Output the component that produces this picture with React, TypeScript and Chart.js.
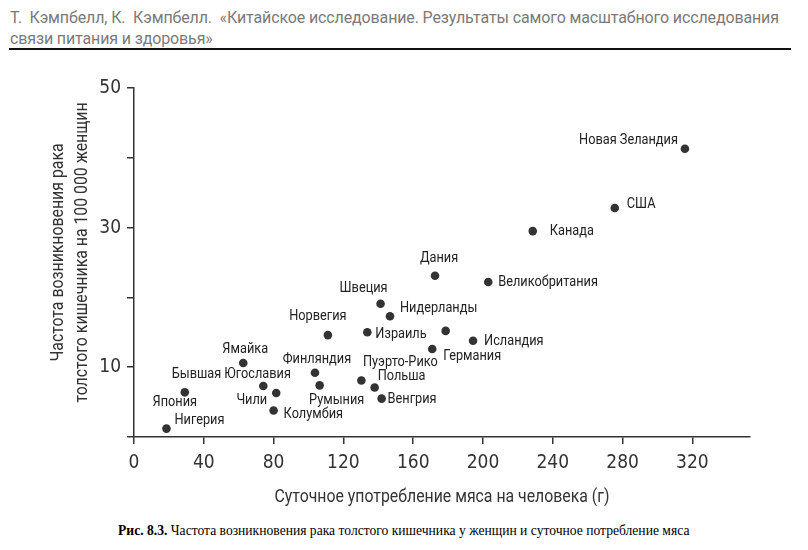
import React, { useEffect, useRef } from "react";
import { Chart, registerables } from "chart.js";

Chart.register(...registerables);

const TICK_FONT = "'DejaVu Sans Condensed', Roboto, sans-serif";
const LABEL_FONT = "Roboto, 'DejaVu Sans Condensed', sans-serif";

const countries = [
  "Новая Зеландия", "США", "Канада", "Великобритания", "Дания", "Швеция",
  "Нидерланды", "Норвегия", "Израиль", "", "Исландия", "Германия",
  "Пуэрто-Рико", "Польша", "Венгрия", "Финляндия", "Румыния", "Ямайка",
  "Бывшая Югославия", "Чили", "Колумбия", "Япония", "Нигерия",
];
const meat = [
  315.7, 275.5, 228.5, 203.0, 172.5, 141.3,
  146.7, 111.1, 133.7, 178.6, 194.3, 170.9,
  130.3, 137.9, 141.9, 103.7, 106.4, 62.6,
  74.1, 81.5, 80.0, 29.1, 18.6,
];
const cancer = [
  41.3, 32.8, 29.5, 22.2, 23.1, 19.1,
  17.3, 14.6, 15.0, 15.2, 13.8, 12.6,
  8.1, 7.1, 5.5, 9.2, 7.4, 10.6,
  7.3, 6.3, 3.8, 6.4, 1.2,
];
const xTickValues = [0, 40, 80, 120, 160, 200, 240, 280, 320];
const yTickValues = [0, 10, 20, 30, 40, 50];
const yTickLabels = [10, 30, 50];

const xTitle = "Суточное употребление мяса на человека (г)";
const yTitle = ["Частота возникновения рака", "толстого кишечника на 100 000 женщин"];

// label placement: [textAlign, dx, dy] relative to each point
const labelPlacement: [CanvasTextAlign, number, number][] = [
  ["right", -7, -8], ["left", 12, -4], ["left", 17, 0], ["left", 10, 0], ["center", 4, -17], ["center", -17, -15],
  ["left", 10, -8], ["center", -10, -19], ["left", 8, 2], ["left", 0, 0], ["left", 11, 1], ["left", 11, 7],
  ["center", 39, -18], ["left", 3, -11], ["left", 6, 1], ["center", 2, -13], ["center", 17, 15], ["center", 2, -14],
  ["center", -32, -12], ["right", -9, 7], ["left", 10, 4], ["center", -10, 10], ["left", 8, -8],
];

function drawNarrow(ctx: CanvasRenderingContext2D, text: string, x: number, y: number, align: CanvasTextAlign, sx: number) {
  ctx.save();
  ctx.translate(x, y);
  ctx.scale(sx, 1);
  ctx.textAlign = align;
  ctx.fillText(text, 0, 0);
  ctx.restore();
}

const labelPlugin = {
  id: "countryLabels",
  afterDatasetsDraw(chart: any) {
    const ctx = chart.ctx as CanvasRenderingContext2D;
    const meta = chart.getDatasetMeta(0);
    ctx.save();
    ctx.font = `14.5px ${LABEL_FONT}`;
    ctx.fillStyle = "#222";
    ctx.textBaseline = "middle";
    meta.data.forEach((pt: any, i: number) => {
      const name = countries[i];
      if (!name) return;
      const [align, dx, dy] = labelPlacement[i];
      drawNarrow(ctx, name, pt.x + dx, pt.y + dy, align, 0.88);
    });
    const { left, right, top, bottom } = chart.chartArea;
    ctx.fillStyle = "#333";
    ctx.font = `18px ${LABEL_FONT}`;
    drawNarrow(ctx, xTitle, (left + right) / 2, bottom + 60, "center", 0.88);
    ctx.translate(0, (top + bottom) / 2 - 10);
    ctx.rotate(-Math.PI / 2);
    drawNarrow(ctx, yTitle[0], 0, 58, "center", 0.88);
    drawNarrow(ctx, yTitle[1], 0, 82, "center", 0.88);
    ctx.restore();
  },
};

export default function App() {
  const ref = useRef<HTMLCanvasElement>(null);
  useEffect(() => {
    if (!ref.current) return;
    const chart = new Chart(ref.current, {
      type: "scatter",
      data: {
        datasets: [
          {
            data: meat.map((m, i) => ({ x: m, y: cancer[i] })),
            backgroundColor: "#333",
            borderColor: "#333",
            pointRadius: 4.3,
            borderWidth: 0,
          },
        ],
      },
      options: {
        animation: false,
        responsive: false,
        events: [],
        layout: { padding: { left: 0, right: 58, top: 28, bottom: 0 } },
        plugins: { legend: { display: false }, tooltip: { enabled: false } },
        scales: {
          x: {
            type: "linear",
            min: 0,
            max: 353,
            afterFit: (s: any) => { s.height = 78; },
            afterBuildTicks: (s: any) => {
              s.ticks = xTickValues.map((v) => ({ value: v }));
            },
            border: { display: true, color: "#333", width: 1.5 },
            grid: { drawOnChartArea: false, drawTicks: true, tickLength: 7, color: "#333", lineWidth: 1.5 },
            ticks: {
              color: "#333",
              padding: 8,
              maxRotation: 0,
              autoSkip: false,
              font: { family: TICK_FONT, size: 19 },
              callback: (v: any) => String(v),
            },
          },
          y: {
            type: "linear",
            min: 0,
            max: 50,
            afterFit: (s: any) => { s.width = 134; },
            afterBuildTicks: (s: any) => {
              s.ticks = yTickValues.map((v) => ({ value: v }));
            },
            border: { display: true, color: "#333", width: 1.5 },
            grid: { drawOnChartArea: false, drawTicks: true, tickLength: 7, color: "#333", lineWidth: 1.5 },
            ticks: {
              color: "#333",
              padding: 6,
              autoSkip: false,
              font: { family: TICK_FONT, size: 19 },
              callback: (v: any) => (yTickLabels.includes(Number(v)) ? String(v) : ""),
            },
          },
        },
      },
      plugins: [labelPlugin],
    });
    return () => chart.destroy();
  }, []);

  return (
    <div style={{ position: "absolute", left: 0, top: 0, width: 808, height: 550, background: "#fff" }}>
      <div
        style={{
          position: "absolute",
          left: 10,
          top: 7,
          font: "16px Roboto, 'Liberation Sans', Arial, sans-serif",
          lineHeight: "21px",
          letterSpacing: "-0.13px",
          color: "#7a7a7a",
          whiteSpace: "nowrap",
        }}
      >
        Т.&nbsp; Кэмпбелл, К.&nbsp; Кэмпбелл.&nbsp; «Китайское исследование. Результаты самого масштабного исследования
        <br />
        связи питания и здоровья»
      </div>
      <div style={{ position: "absolute", left: 9, top: 48, width: 782, height: 2, background: "#111" }} />
      <canvas ref={ref} width={808} height={455} style={{ position: "absolute", left: 0, top: 60, width: 808, height: 455 }} />
      <div
        style={{
          position: "absolute",
          left: 118,
          top: 523,
          font: "13.6px 'Liberation Serif', 'Times New Roman', serif",
          lineHeight: "16px",
          color: "#000",
          whiteSpace: "nowrap",
        }}
      >
        <b>Рис. 8.3.</b> Частота возникновения рака толстого кишечника у женщин и суточное потребление мяса
      </div>
    </div>
  );
}
